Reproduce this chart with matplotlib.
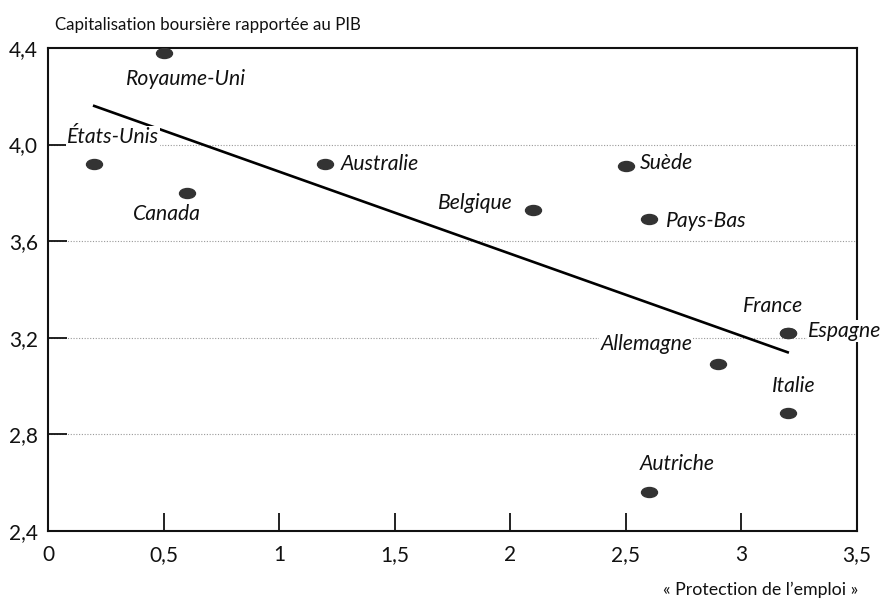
import matplotlib
matplotlib.use("Agg")
import matplotlib.pyplot as plt
from matplotlib.path import Path
from matplotlib.transforms import Affine2D

plt.rcParams['font.family'] = ['Lato', 'DejaVu Sans']

# ---- data ----
countries = ["Royaume-Uni", "États-Unis", "Canada", "Australie", "Belgique", "Suède",
             "Pays-Bas", "France", "Espagne", "Allemagne", "Italie", "Autriche"]
protection = [0.5, 0.2, 0.6, 1.2, 2.1, 2.5, 2.6, 3.2, 3.2, 2.9, 3.2, 2.6]
capitalisation = [4.38, 3.92, 3.80, 3.92, 3.73, 3.91, 3.69, 3.22, 3.22, 3.09, 2.89, 2.56]
trend_x = [0.2, 3.2]
trend_y = [4.16, 3.14]
x_ticks = [0, 0.5, 1, 1.5, 2, 2.5, 3, 3.5]
x_ticklabels = ["0", "0,5", "1", "1,5", "2", "2,5", "3", "3,5"]
y_ticks = [2.4, 2.8, 3.2, 3.6, 4.0, 4.4]
y_ticklabels = ["2,4", "2,8", "3,2", "3,6", "4,0", "4,4"]
grid_levels = [2.8, 3.2, 3.6, 4.0]

# label offsets (pixels) and alignment
label_style = {
    "Royaume-Uni": (-38, -26, "left"),
    "États-Unis": (-27, 27, "left"),
    "Canada": (-54, -21, "left"),
    "Australie": (15, 0, "left"),
    "Belgique": (-21, 7, "right"),
    "Suède": (14, 3, "left"),
    "Pays-Bas": (17, -2, "left"),
    "France": (-45, 27, "left"),
    "Espagne": (20, 2, "left"),
    "Allemagne": (-26, 20, "right"),
    "Italie": (-16, 27, "left"),
    "Autriche": (-9, 28, "left"),
}

fig = plt.figure(figsize=(8.85, 5.99), dpi=100)
ax = fig.add_axes([0.0542, 0.1135, 0.9142, 0.8064])

ax.set_xlim(0, 3.5)
ax.set_ylim(2.4, 4.4)

for g in grid_levels:
    ax.axhline(g, color="#999999", lw=0.8, ls=(0, (1, 1.5)), zorder=0)

ellipse = Path.unit_circle().transformed(Affine2D().scale(1.6, 1.0))
ax.plot(protection, capitalisation, ls="none", marker=ellipse, ms=11.5,
        color="#333333", mec="#333333", zorder=3)

ax.plot(trend_x, trend_y, color="black", lw=1.9, zorder=2)

for name, x, y in zip(countries, protection, capitalisation):
    dx, dy, ha = label_style[name]
    ax.annotate(name, (x, y), xytext=(dx, dy), textcoords="offset pixels",
                ha=ha, va="center", fontsize=15.2, style="italic", color="#111111",
                zorder=4, annotation_clip=False,
                bbox=dict(boxstyle="square,pad=0.05", fc="white", ec="none"))

ax.set_xticks(x_ticks)
ax.set_xticklabels(x_ticklabels)
ax.set_yticks(y_ticks)
ax.set_yticklabels(y_ticklabels)
ax.tick_params(axis="x", direction="in", length=13, width=1.3, pad=10, labelsize=15, colors="#111111")
ax.tick_params(axis="y", direction="in", length=14, width=1.3, pad=7, labelsize=15, colors="#111111")

for s in ax.spines.values():
    s.set_linewidth(1.5)
    s.set_color("#111111")

fig.text(55 / 885, 1 - 25 / 599, "Capitalisation boursière rapportée au PIB",
         ha="left", va="center", fontsize=12.2, color="#111111")
fig.text(858 / 885, 1 - 590 / 599, "« Protection de l’emploi »",
         ha="right", va="center", fontsize=12.8, color="#111111")

fig.savefig("out.png", dpi=100)
